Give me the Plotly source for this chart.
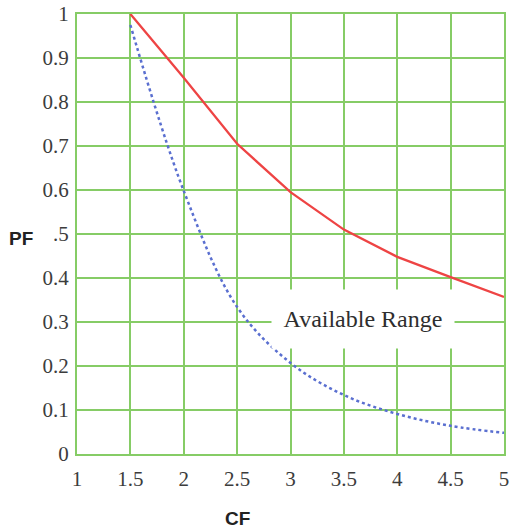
import plotly.graph_objects as go

cf_values = [1.5, 2.0, 2.5, 3.0, 3.5, 4.0, 4.5, 5.0]
pf_upper = [1.0, 0.855, 0.705, 0.595, 0.51, 0.448, 0.402, 0.357]
pf_lower = [0.975, 0.598, 0.334, 0.207, 0.134, 0.091, 0.064, 0.048]
x_ticks = [1, 1.5, 2, 2.5, 3, 3.5, 4, 4.5, 5]
x_tick_labels = ["1", "1.5", "2", "2.5", "3", "3.5", "4", "4.5", "5"]
y_ticks = [0, 0.1, 0.2, 0.3, 0.4, 0.5, 0.6, 0.7, 0.8, 0.9, 1]
y_tick_labels = ["0", "0.1", "0.2", "0.3", "0.4", "0.5", "0.6", "0.7", "0.8", "0.9", "1"]

grid_color = "#86cc66"
tick_font = dict(family="Liberation Serif", size=21, color="#3c3c3c")

W, H = 515, 529
ML, MR, MT, MB = 77, 11, 14, 75
plot_w = W - ML - MR
plot_h = H - MT - MB

fig = go.Figure()
fig.add_trace(go.Scatter(x=cf_values, y=pf_lower, mode="lines",
                         line=dict(color="#5a6fd0", width=2.5, dash="dot", shape="spline"),
                         showlegend=False))
fig.add_trace(go.Scatter(x=cf_values, y=pf_upper, mode="lines",
                         line=dict(color="#ee4444", width=2.3),
                         showlegend=False))

fig.update_layout(
    width=W, height=H,
    margin=dict(l=ML, r=MR, t=MT, b=MB, autoexpand=False),
    paper_bgcolor="white", plot_bgcolor="white",
    xaxis=dict(range=[1, 5], tickvals=x_ticks, ticktext=x_tick_labels,
               showgrid=True, gridcolor=grid_color, gridwidth=2,
               zeroline=False, showline=True, linecolor=grid_color, linewidth=2, mirror=True,
               ticks="", ticklabelstandoff=5, tickfont=tick_font, automargin=False),
    yaxis=dict(range=[0, 1], tickvals=y_ticks, ticktext=y_tick_labels,
               showgrid=True, gridcolor=grid_color, gridwidth=2,
               zeroline=False, showline=True, linecolor=grid_color, linewidth=2, mirror=True,
               ticks="", ticklabelstandoff=2, tickfont=tick_font, automargin=False),
    annotations=[
        dict(x=3.68, y=0.307, xref="x", yref="y", text="Available Range", showarrow=False,
             font=dict(family="Liberation Serif", size=24, color="#2e2e2e"),
             width=166, height=42, bgcolor="white", borderpad=8),
        dict(x=(6 - ML) / plot_w, y=0.49, xref="paper", yref="y", text="<b>PF</b>",
             showarrow=False, xanchor="left", align="left", width=42,
             font=dict(family="Liberation Sans", size=19, color="#222222"),
             bgcolor="white", borderpad=2),
        dict(x=(237 - ML) / plot_w, y=(H - MB - 518) / plot_h, xref="paper", yref="paper",
             text="<b>CF</b>", showarrow=False, xanchor="center", yanchor="middle",
             font=dict(family="Liberation Sans", size=19, color="#222222")),
    ],
)

fig.write_html("out.html", config={"displayModeBar": False},
               post_script="document.body.style.margin='0';document.body.style.padding='0';document.documentElement.style.overflow='hidden';")
